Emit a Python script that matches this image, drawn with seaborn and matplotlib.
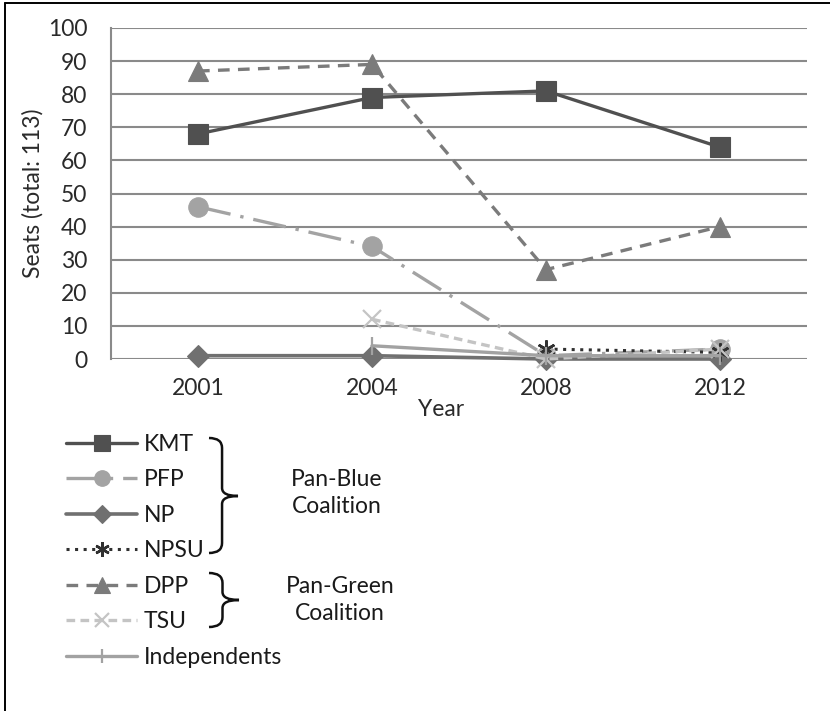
import numpy as np
import pandas as pd
import seaborn as sns
import matplotlib.pyplot as plt
from matplotlib.path import Path
from matplotlib.patches import PathPatch
from matplotlib.lines import Line2D

# --- data ---
years = ["2001", "2004", "2008", "2012"]
kmt = [68, 79, 81, 64]
pfp = [46, 34, 1, 3]
np_seats = [1, 1, 0, 0]
npsu = [np.nan, np.nan, 3, 2]
dpp = [87, 89, 27, 40]
tsu = [np.nan, 12, 0, 3]
independents = [np.nan, 4, 1, 1]

parties = ["KMT", "PFP", "NP", "NPSU", "DPP", "TSU", "Independents"]
seats = [kmt, pfp, np_seats, npsu, dpp, tsu, independents]

# --- styling per party ---
styles = {
    "KMT": dict(color="#505050", ls="-", marker="s", ms=14, lw=2.4),
    "PFP": dict(color="#a3a3a3", ls=(0, (10, 3, 1, 3)), marker="o", ms=14, lw=2.4),
    "NP": dict(color="#707070", ls="-", marker="D", ms=11, lw=2.6),
    "NPSU": dict(color="#303030", ls=(0, (1, 1.8)), marker=(6, 2, 0), ms=13, lw=2.2, mew=1.8),
    "DPP": dict(color="#7b7b7b", ls=(0, (3.5, 2.5)), marker="^", ms=14, lw=2.4),
    "TSU": dict(color="#c4c4c4", ls=(0, (2.6, 1.6)), marker="x", ms=13, lw=2.4, mew=1.6),
    "Independents": dict(color="#a2a2a2", ls="-", marker="|", ms=13, lw=2.4, mew=1.6),
}

sns.set_theme(style="white")
plt.rcParams["font.family"] = ["Lato", "DejaVu Sans"]
FS = 16.5

W, H = 830, 711
fig = plt.figure(figsize=(W / 100, H / 100), dpi=100)
ax = fig.add_axes([111 / W, 1 - 359 / H, 696 / W, 331 / H])

for party, vals in zip(parties, seats):
    st = styles[party]
    sns.lineplot(x=years, y=vals, ax=ax, label=party, color=st["color"],
                 linestyle=st["ls"], marker=st["marker"], markersize=st["ms"],
                 linewidth=st["lw"], markeredgewidth=st.get("mew", 0.8),
                 markeredgecolor=st["color"], clip_on=False, legend=False)

ax.set_xlim(-0.5, 3.5)
ax.set_ylim(0, 100)
ax.set_yticks(range(0, 101, 10))
ax.grid(axis="y", color="#8a8a8a", lw=1.5)
ax.grid(axis="x", visible=False)
ax.set_axisbelow(True)
for side in ["top", "right", "bottom"]:
    ax.spines[side].set_visible(False)
ax.spines["left"].set_color("#8a8a8a")
ax.spines["left"].set_linewidth(1.5)
ax.tick_params(axis="y", length=0, pad=17, labelsize=FS, labelcolor="#2a2a2a")
ax.tick_params(axis="x", length=0, pad=14, labelsize=FS, labelcolor="#2a2a2a")
ax.set_ylabel("Seats (total: 113)", fontsize=FS, color="#2a2a2a", va="center")
ax.yaxis.set_label_coords((33 - 111) / 696, 0.5)
ax.set_xlabel("Year", fontsize=FS, color="#2a2a2a")
ax.xaxis.set_label_coords((441 - 111) / 696, -0.12)

# legend in lower left
handles, labels = ax.get_legend_handles_labels()
fig.legend(handles, labels, loc="upper left",
           bbox_to_anchor=(66 / W, 1 - 434 / H), frameon=False,
           fontsize=FS, borderpad=0, borderaxespad=0, handlelength=3.1,
           handletextpad=0.3, labelspacing=0.63, markerscale=0.8,
           labelcolor="#1a1a1a")

# braces for the coalitions
def brace(x0, y_top, y_bot, x_tip, y_mid):
    xm = x0 + (x_tip - x0) * 0.45
    pts = [(x0, y_top), (xm, y_top), (xm, y_top + 10),
           (xm, y_mid - 8), (xm, y_mid), (x_tip, y_mid),
           (xm, y_mid), (xm, y_mid + 8),
           (xm, y_bot - 10), (xm, y_bot), (x0, y_bot)]
    codes = [Path.MOVETO, Path.CURVE3, Path.CURVE3,
             Path.LINETO, Path.CURVE3, Path.CURVE3,
             Path.CURVE3, Path.CURVE3,
             Path.LINETO, Path.CURVE3, Path.CURVE3]
    pts = [(x / W, 1 - y / H) for x, y in pts]
    fig.add_artist(PathPatch(Path(pts, codes), transform=fig.transFigure,
                             fill=False, ec="#111111", lw=1.8))

brace(209, 438, 553, 238, 496)
brace(209, 573, 627, 239, 600)
fig.text(337 / W, 1 - 493 / H, "Pan-Blue\nCoalition", ha="center", va="center",
         fontsize=FS, color="#1a1a1a", linespacing=1.3)
fig.text(340 / W, 1 - 600 / H, "Pan-Green\nCoalition", ha="center", va="center",
         fontsize=FS, color="#1a1a1a", linespacing=1.3)

# outer frame (top and left edges only)
fig.add_artist(Line2D([5 / W, 5 / W], [0, 1 - 3 / H], transform=fig.transFigure,
                      color="black", lw=1.4))
fig.add_artist(Line2D([5 / W, 1], [1 - 3 / H, 1 - 3 / H], transform=fig.transFigure,
                      color="black", lw=1.4))

fig.savefig("out.png", dpi=100)
